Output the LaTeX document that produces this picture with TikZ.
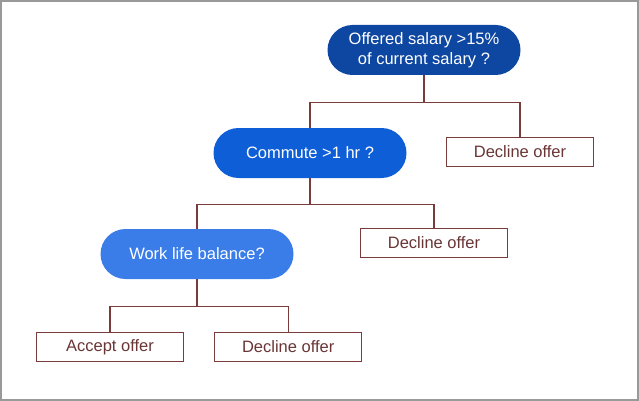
\documentclass[tikz,border=0pt]{standalone}
\usepackage{fontspec}
\setmainfont{Liberation Sans}
\usepackage{tikz}
\usetikzlibrary{positioning}
\definecolor{darkblue}{RGB}{13,71,161}
\definecolor{midblue}{RGB}{14,94,215}
\definecolor{lightblue}{RGB}{58,125,233}
\definecolor{linebrown}{RGB}{122,59,59}
\definecolor{textbrown}{RGB}{106,53,53}
\tikzstyle{question} = [rectangle, rounded corners=25pt, text=white,
    minimum width=193pt, minimum height=50pt, align=center,
    font=\fontsize{16.5}{19.5}\selectfont]
\tikzstyle{leaf} = [rectangle, draw=linebrown, line width=1.2pt, text=textbrown,
    minimum width=147pt, minimum height=29pt, font=\fontsize{16.5}{19.5}\selectfont]
\tikzstyle{line} = [draw, linebrown, line width=1.3pt]

\begin{document}
\begin{tikzpicture}[x=1pt, y=-1pt]
   % Frame
    \useasboundingbox (0,0) rectangle (639,401);
    \draw [gray!80, line width=2pt] (1,1) rectangle (638,400);
   % Place nodes
    \node [question, fill=darkblue] (salary) at (424,50) {Offered salary >15\%\\of current salary ?};
    \node [question, fill=midblue] (commute) at (310,153) {Commute >1 hr ?};
    \node [leaf] (decline1) at (520,152) {Decline offer};
    \node [question, fill=lightblue] (balance) at (197,254) {Work life balance?};
    \node [leaf] (decline2) at (434,243) {Decline offer};
    \node [leaf] (accept) at (110,347) {Accept offer};
    \node [leaf, right=30pt of accept] (decline3) {Decline offer};
   % Draw edges
    \path [line] (salary.south) -- ++(0,27) coordinate (split1);
    \path [line] (split1) -| (commute.north);
    \path [line] (split1) -| (decline1.north);
    \path [line] (commute.south) -- ++(0,26) coordinate (split2);
    \path [line] (split2) -| (balance.north);
    \path [line] (split2) -| (decline2.north);
    \path [line] (balance.south) -- ++(0,27) coordinate (split3);
    \path [line] (split3) -| (accept.north);
    \path [line] (split3) -| (decline3.north);
  \end{tikzpicture}
\end{document}
